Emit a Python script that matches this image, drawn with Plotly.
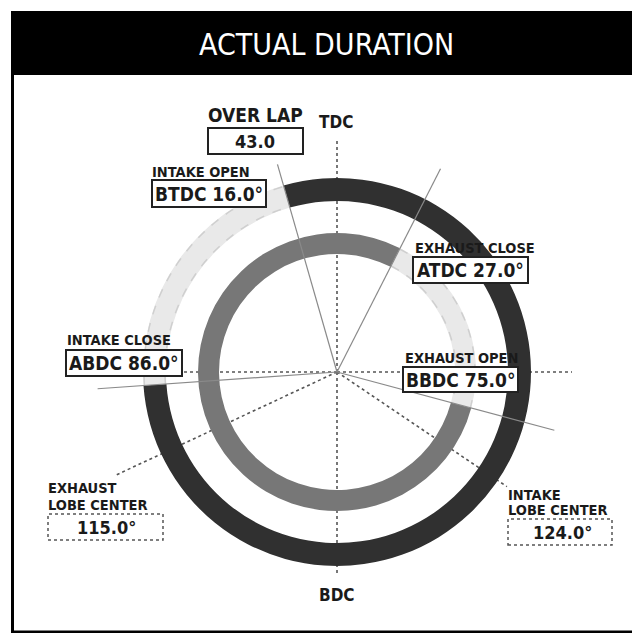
import numpy as np
import plotly.graph_objects as go

# ---------------- data (valve timing, degrees crank) ----------------
intake_open_btdc = 16.0
intake_close_abdc = 86.0
exhaust_open_bbdc = 75.0
exhaust_close_atdc = 27.0
overlap = 43.0
intake_lobe_center = 124.0
exhaust_lobe_center = 115.0

event_names = ["INTAKE OPEN", "INTAKE CLOSE", "EXHAUST OPEN", "EXHAUST CLOSE"]
event_refs = ["BTDC", "ABDC", "BBDC", "ATDC"]
event_values = [intake_open_btdc, intake_close_abdc, exhaust_open_bbdc, exhaust_close_atdc]

# clockwise angle from TDC
io_ang = 360 - intake_open_btdc
ic_ang = 180 + intake_close_abdc
eo_ang = 180 - exhaust_open_bbdc
ec_ang = exhaust_close_atdc
ilc_ang = intake_lobe_center
elc_ang = 360 - exhaust_lobe_center

intake_dur = (360 - io_ang) + ic_ang
exhaust_dur = (360 - eo_ang) + ec_ang

# ---------------- style ----------------
W, H = 640, 633
OFF = 8                    # page body margin
CX, CY = 337, 372          # circle centre in page px
RMAX = 250
R_OUT = (171, 194)         # intake ring radii
R_IN = (118, 139)          # exhaust ring radii
DARK = "#303030"
MID = "#777777"
LIGHT = "#e9e9e9"
LIGHT_EDGE = "#cfcfcf"
FONT_N = "DejaVu Sans Condensed, Liberation Sans Narrow, sans-serif"


def X(x):
    return (x - OFF) / W


def Y(y):
    return 1 - (y - OFF) / H


dom = dict(x=[X(CX - RMAX), X(CX + RMAX)], y=[Y(CY + RMAX), Y(CY - RMAX)])
polar_common = dict(
    domain=dom,
    bgcolor="rgba(0,0,0,0)",
    barmode="overlay",
    angularaxis=dict(visible=False, rotation=90, direction="clockwise"),
    radialaxis=dict(visible=False, range=[0, RMAX]),
)

fig = go.Figure()

# dotted reference lines (bottom subplot)
dotted = [(0, 232), (180, 204), (90, 235), (270, 240), (ilc_ang, 205), (elc_ang, 243)]
for th, L in dotted:
    fig.add_trace(go.Scatterpolar(r=[0, L], theta=[th, th], mode="lines",
                                  line=dict(color="#555555", width=1.6, dash="dot"),
                                  subplot="polar", hoverinfo="skip", showlegend=False))


def mid(a, span):
    return (a + span / 2) % 360


# rings (top subplot)
rings = [
    (mid(io_ang, intake_dur), intake_dur, R_OUT, DARK),
    (mid(ic_ang, 360 - intake_dur), 360 - intake_dur, R_OUT, LIGHT),
    (mid(eo_ang, exhaust_dur), exhaust_dur, R_IN, MID),
    (mid(ec_ang, 360 - exhaust_dur), 360 - exhaust_dur, R_IN, LIGHT),
]
for th, span, (r0, r1), col in rings:
    fig.add_trace(go.Barpolar(theta=[th], width=[span], base=[r0], r=[r1 - r0],
                              marker=dict(color=col, line=dict(width=0)),
                              subplot="polar2", hoverinfo="skip", showlegend=False))

# dashed edges of the light (closed) segments
for a0, span, (r0, r1) in [(ic_ang, 360 - intake_dur, R_OUT), (ec_ang, 360 - exhaust_dur, R_IN)]:
    th = np.linspace(a0, a0 + span, 60)
    for rr in (r0 + 1, r1 - 1):
        fig.add_trace(go.Scatterpolar(r=np.full_like(th, rr), theta=th, mode="lines",
                                      line=dict(color=LIGHT_EDGE, width=1.5, dash="dash"),
                                      subplot="polar2", hoverinfo="skip", showlegend=False))

# solid event lines
events = [(io_ang, 216), (ic_ang, 240), (eo_ang, 225), (ec_ang, 228)]
for th, L in events:
    fig.add_trace(go.Scatterpolar(r=[0, L], theta=[th, th], mode="lines",
                                  line=dict(color="#8a8a8a", width=1.2),
                                  subplot="polar2", hoverinfo="skip", showlegend=False))

shapes = []
annos = []

# frame and title bar
shapes.append(dict(type="rect", xref="paper", yref="paper", x0=X(12.5), x1=X(639.5), y0=Y(632), y1=Y(12.5),
                   line=dict(color="black", width=3), fillcolor="rgba(0,0,0,0)", layer="above"))
shapes.append(dict(type="rect", xref="paper", yref="paper", x0=X(11), x1=X(660), y0=Y(75), y1=Y(11),
                   line=dict(width=0), fillcolor="black", layer="above"))
annos.append(dict(text="ACTUAL DURATION", x=X(326), y=Y(44), xref="paper", yref="paper",
                  showarrow=False, xanchor="center", yanchor="middle",
                  font=dict(family=FONT_N, size=30, color="white")))


def box(x0, y0, x1, y1, dash="solid"):
    shapes.append(dict(type="rect", xref="paper", yref="paper", x0=X(x0), x1=X(x1), y0=Y(y1), y1=Y(y0),
                       line=dict(color="#222222" if dash == "solid" else "#555555",
                                 width=2 if dash == "solid" else 1.5, dash=dash),
                       fillcolor="white", layer="above"))


def text(t, x, y, size, anchor="left"):
    annos.append(dict(text=t, x=X(x), y=Y(y), xref="paper", yref="paper", showarrow=False,
                      xanchor=anchor, yanchor="middle",
                      font=dict(family=FONT_N, size=size, color="#1a1a1a", weight="bold")))


LBL = 14.5

# overlap
text("OVER LAP", 255, 115, 19, "center")
box(208, 128, 303, 154)
text(f"{overlap:.1f}", 255, 141, 18, "center")

# event boxes: (label pos, box)
ev_layout = [
    ((150, 172), (152, 180, 266, 207)),
    ((65, 340), (66, 350, 182, 376)),
    ((403, 358), (403, 367, 518, 392)),
    ((413, 248), (413, 257, 528, 283)),
]
for name, ref, val, (lp, bx) in zip(event_names, event_refs, event_values, ev_layout):
    text(name, lp[0], lp[1], LBL)
    box(*bx)
    text(f"{ref} {val:.1f}°", (bx[0] + bx[2]) / 2, (bx[1] + bx[3]) / 2, 19, "center")

# lobe centers
text("EXHAUST", 46, 488, LBL)
text("LOBE CENTER", 46, 505, LBL)
box(48, 514, 163, 540, "dot")
text(f"{exhaust_lobe_center:.1f}°", 106, 527, 18, "center")
text("INTAKE", 506, 495, LBL)
text("LOBE CENTER", 506, 510, LBL)
box(508, 519, 612, 545, "dot")
text(f"{intake_lobe_center:.1f}°", 562, 532, 18, "center")

# TDC / BDC
text("TDC", 336, 122, 17, "center")
text("BDC", 337, 595, 17, "center")

fig.update_layout(
    width=W, height=H, margin=dict(l=0, r=0, t=0, b=0),
    paper_bgcolor="white", plot_bgcolor="white",
    polar=polar_common, polar2=polar_common,
    shapes=shapes, annotations=annos, showlegend=False,
)
fig.write_html("out.html")
